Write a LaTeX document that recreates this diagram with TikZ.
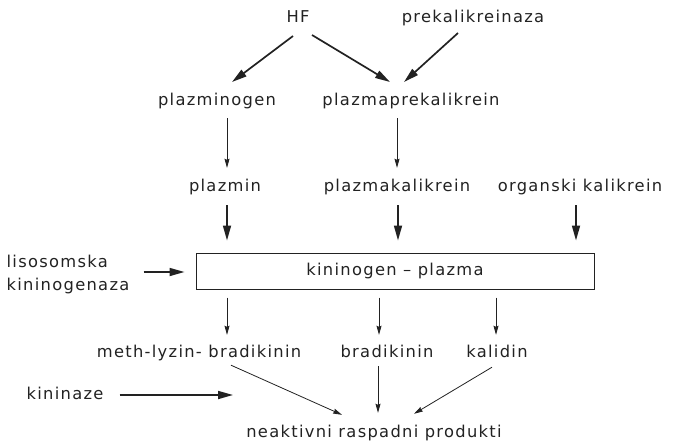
\documentclass[tikz,border=0pt]{standalone}
\usepackage{fontspec}
\setmainfont[LetterSpace=8]{DejaVu Sans}
\usetikzlibrary{arrows.meta,calc}
\definecolor{ink}{HTML}{222222}
\tikzset{
  lbl/.style={inner sep=1pt, text=ink, text height=12pt, text depth=4pt, font=\fontsize{16.3}{23}\selectfont},
  thick arr/.style={draw=ink, line width=1.7pt, -{Triangle[length=15pt,width=8pt]}},
  thin arr/.style={draw=ink, line width=0.8pt, -{Stealth[length=9pt,width=5pt,inset=1pt]}},
}
\begin{document}
\begin{tikzpicture}[x=1pt,y=-1pt]
\useasboundingbox (0,0) rectangle (693,447);
\node[lbl] (hf) at (298,18) {HF};
\node[lbl] (prek) at (473,18) {prekalikreinaza};
\node[lbl] (pmg) at (217,101) {plazminogen};
\node[lbl] (ppk) at (411,101) {plazmaprekalikrein};
\node[lbl] (pmin) at (225,187) {plazmin};
\node[lbl] (pk) at (397,187) {plazmakalikrein};
\node[lbl] (ok) at (580,187) {organski kalikrein};
\node[lbl, draw=ink, line width=1pt, minimum width=398pt, minimum height=36pt] (box) at (395,271) {kininogen – plazma};
\node[lbl, align=left, text height=, text depth=] (lis) at (68,274) {lisosomska\\kininogenaza};
\node[lbl] (mlb) at (199,353) {meth-lyzin- bradikinin};
\node[lbl] (brk) at (387,353) {bradikinin};
\node[lbl] (kal) at (497,353) {kalidin};
\node[lbl] (kz) at (65,395) {kininaze};
\node[lbl] (nrp) at (374,433) {neaktivni raspadni produkti};

% top
\draw[thick arr] ($(hf)+(-5,18)$) -- ($(pmg)+(15,-19)$);
\draw[thick arr] ($(hf)+(14,17)$) -- ($(ppk)+(-21,-19)$);
\draw[thick arr] ($(prek)+(-15,15)$) -- ($(ppk)+(-7,-19)$);
% thin down
\draw[thin arr] ($(pmg.south -| pmin)+(2,8)$) -- ($(pmin.north)+(2,-10)$);
\draw[thin arr] ($(ppk.south -| pk)+(0,8)$) -- ($(pk.north)+(0,-10)$);
% into box
\draw[thick arr] ($(pmin.south)+(2,9)$) -- ($(pmin.south |- box.north)+(2,-12)$);
\draw[thick arr] ($(pk.south)+(1,9)$) -- ($(pk.south |- box.north)+(1,-12)$);
\draw[thick arr] ($(ok.south)+(-4,9)$) -- ($(ok.south |- box.north)+(-4,-12)$);
\draw[thick arr] ($(box.west)+(-52,1)$) -- ($(box.west)+(-11,1)$);
% out of box
\draw[thin arr] ($(box.south -| mlb)+(28,8)$) -- ($(mlb.north)+(28,-9)$);
\draw[thin arr] ($(box.south -| brk)+(-8,8)$) -- ($(brk.north)+(-8,-9)$);
\draw[thin arr] ($(box.south -| kal)+(-1,8)$) -- ($(kal.north)+(-1,-9)$);
% to products
\draw[thick arr] ($(kz.east)+(15,0)$) -- ($(kz)+(168,0)$);
\draw[thin arr] ($(mlb.south)+(32,3)$) -- ($(nrp.north)+(-32,-9)$);
\draw[thin arr] ($(brk.south)+(-9,4)$) -- ($(brk.south |- nrp.north)+(-9,-11)$);
\draw[thin arr] ($(kal.south)+(-5,5)$) -- ($(nrp.north)+(40,-10)$);
\end{tikzpicture}
\end{document}
